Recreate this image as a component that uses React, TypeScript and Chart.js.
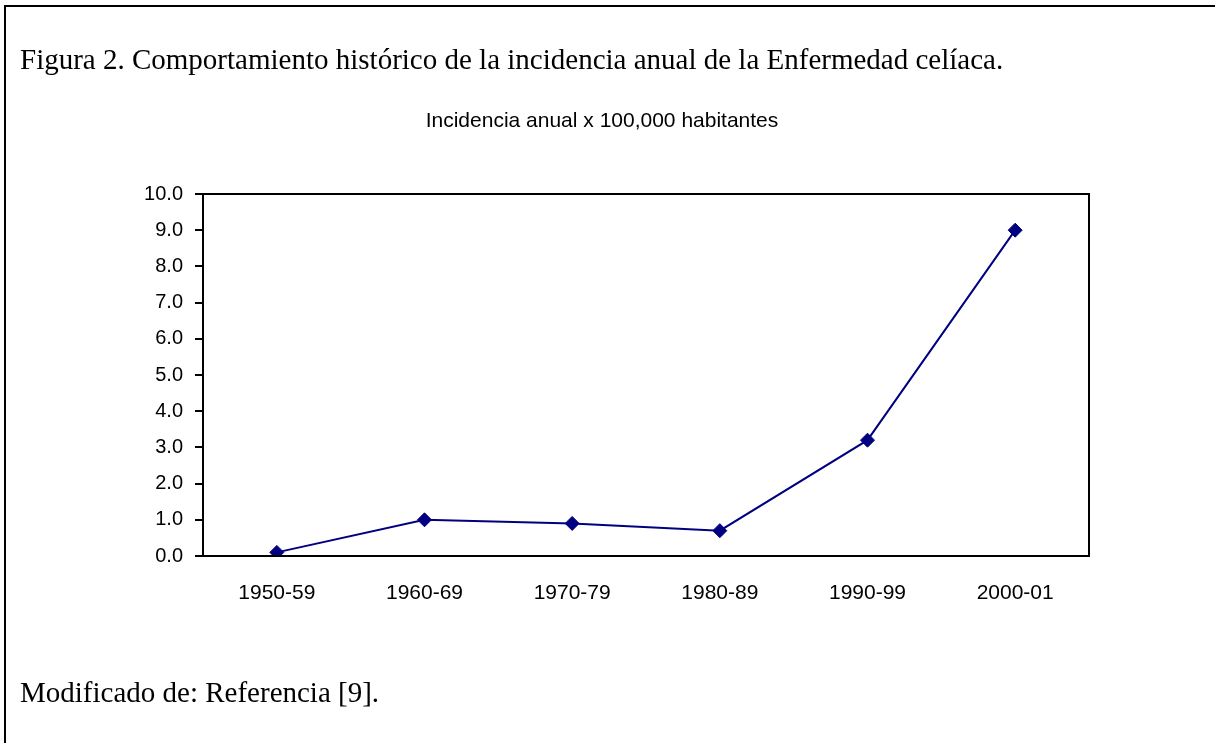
import React, { useEffect, useRef } from "react";
import { Chart, registerables } from "chart.js";

Chart.register(...registerables);

const categories = ["1950-59", "1960-69", "1970-79", "1980-89", "1990-99", "2000-01"];
const incidence = [0.1, 1.0, 0.9, 0.7, 3.2, 9.0];
const yMin = 0;
const yMax = 10;
const yStep = 1;

const titleText = "Figura 2. Comportamiento histórico de la incidencia anual de la Enfermedad celíaca.";
const subtitleText = "Incidencia anual x 100,000 habitantes";
const footerText = "Modificado de: Referencia [9].";

const W = 1215;
const H = 743;

const framePlugin = {
  id: "frame",
  afterDraw(chart: any) {
    const { ctx, chartArea } = chart;
    ctx.save();
    ctx.strokeStyle = "#000";
    ctx.lineWidth = 2;
    ctx.strokeRect(chartArea.left, chartArea.top, chartArea.right - chartArea.left, chartArea.bottom - chartArea.top);
    ctx.restore();
  },
};

export default function App() {
  const ref = useRef<HTMLCanvasElement | null>(null);
  useEffect(() => {
    if (!ref.current) return;
    const sans = "'Liberation Sans', Arial, sans-serif";
    const chart = new Chart(ref.current, {
      type: "line",
      data: {
        labels: categories,
        datasets: [
          {
            data: incidence,
            borderColor: "#000080",
            backgroundColor: "#000080",
            borderWidth: 2,
            pointStyle: "rectRot",
            pointRadius: 7,
            pointBorderWidth: 1,
            tension: 0,
            fill: false,
          },
        ],
      },
      options: {
        animation: false,
        responsive: false,
        maintainAspectRatio: false,
        events: [],
        layout: { padding: { left: 123, right: 126, top: 194, bottom: 107 } },
        plugins: {
          legend: { display: false },
          tooltip: { enabled: false },
          title: { display: false },
        },
        scales: {
          x: {
            offset: true,
            grid: { display: false },
            border: { display: true, color: "#000", width: 2 },
            ticks: { color: "#000", font: { family: sans, size: 21 }, padding: 17, maxRotation: 0 },
            afterFit: (s: any) => {
              s.height = 80;
            },
          },
          y: {
            min: yMin,
            max: yMax,
            grid: { drawOnChartArea: false, drawTicks: true, tickLength: 8, color: "#000", lineWidth: 2 },
            border: { display: true, color: "#000", width: 2 },
            ticks: {
              stepSize: yStep,
              color: "#000",
              font: { family: sans, size: 20 },
              padding: 12,
              callback: (v: any) => Number(v).toFixed(1),
            },
            afterFit: (s: any) => {
              s.width = 80;
            },
          },
        },
      },
      plugins: [framePlugin],
    });
    return () => chart.destroy();
  }, []);

  const serif = "'Liberation Serif', 'Times New Roman', serif";
  return (
    <div style={{ position: "absolute", left: 0, top: 0, width: W, height: H, overflow: "hidden", background: "#fff" }}>
      <div style={{ position: "absolute", left: 4, top: 5, width: 1400, height: 900, border: "2px solid #000", boxSizing: "border-box" }} />
      <canvas ref={ref} width={W} height={H} style={{ position: "absolute", left: 0, top: 0, width: W, height: H }} />
      <div style={{ position: "absolute", left: 20, top: 45, fontFamily: serif, fontSize: 29, lineHeight: "29px", color: "#000", whiteSpace: "nowrap" }}>{titleText}</div>
      <div style={{ position: "absolute", left: 0, width: 1204, top: 109, textAlign: "center", fontFamily: "'Liberation Sans', Arial, sans-serif", fontSize: 21, lineHeight: "21px", color: "#000", whiteSpace: "nowrap" }}>{subtitleText}</div>
      <div style={{ position: "absolute", left: 20, top: 678, fontFamily: serif, fontSize: 29, lineHeight: "29px", color: "#000", whiteSpace: "nowrap" }}>{footerText}</div>
    </div>
  );
}
